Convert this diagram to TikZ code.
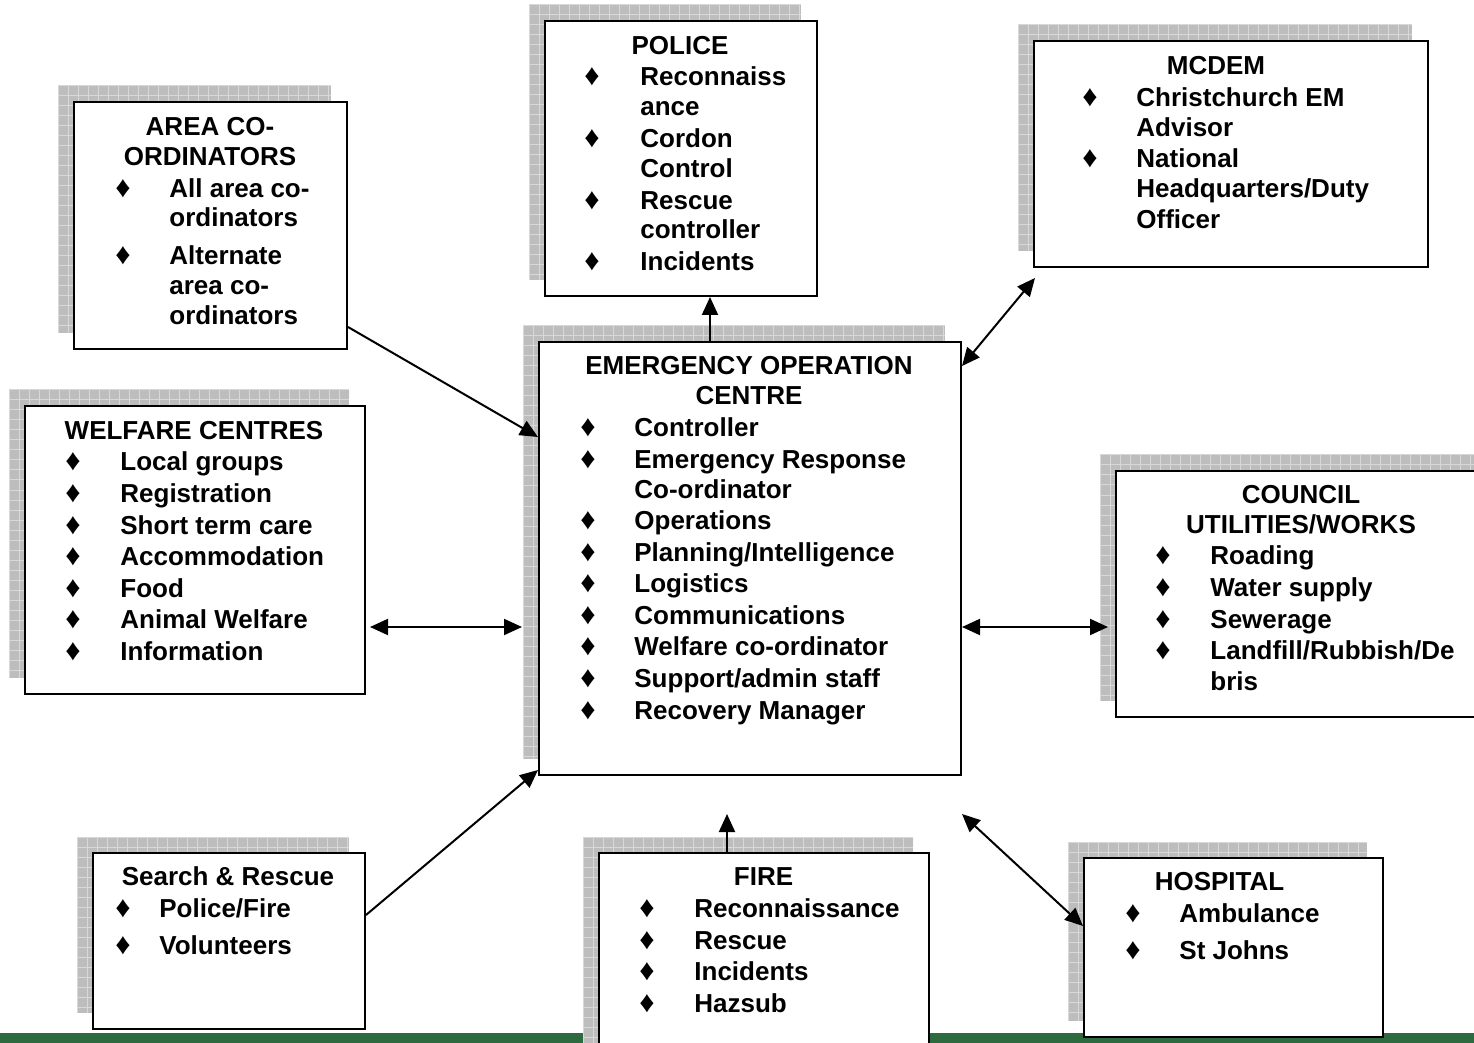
\documentclass[tikz,border=0pt]{standalone}
\usepackage{fontspec}
\setmainfont{Liberation Sans}
\usetikzlibrary{arrows.meta}
\definecolor{shadowgrey}{HTML}{BDBDBD}
\definecolor{gridgrey}{HTML}{D8D8D8}
\definecolor{band}{HTML}{2D6A3F}

% grey checked shadow behind a box
\newcommand\boxshade[4]{%
  \fill[shadowgrey] (#1,#2) rectangle (#3,#4);
  \begin{scope}
    \clip (#1,#2) rectangle (#3,#4);
    \foreach \k in {0,...,44}{
      \draw[gridgrey,line width=.5pt] (#1+10*\k,#2) -- (#1+10*\k,#4);
      \draw[gridgrey,line width=.5pt] (#1,#2+10*\k) -- (#3,#2+10*\k);}
  \end{scope}}

\begin{document}
\begin{tikzpicture}[x=.5pt,y=-.5pt,
  every node/.style={font=\bfseries\fontsize{13}{15}\selectfont,inner sep=0},
  box/.style={draw,line width=1pt,fill=white,anchor=north west},
  ttl/.style={anchor=base},
  item/.style={anchor=base west},
  dia/.style={anchor=base,font=\fontsize{15}{15}\selectfont},
  arr/.style={line width=1pt,-{Triangle[length=9pt,width=8pt]}},
  arrs/.style={line width=1pt,{Triangle[length=9pt,width=8pt]}-{Triangle[length=9pt,width=8pt]}}]
\useasboundingbox (0,0) rectangle (1474,1043);
\clip (0,0) rectangle (1474,1043);
\fill[band] (0,1033) rectangle (1474,1043);

% shadows
\boxshade{529}{5}{801}{280}
\boxshade{1018}{25}{1412}{251}
\boxshade{58}{86}{331}{333}
\boxshade{523}{326}{945}{759}
\boxshade{9}{390}{349}{678}
\boxshade{1100}{455}{1480}{701}
\boxshade{77}{837}{349}{1013}
\boxshade{583}{837}{913}{1057}
\boxshade{1068}{842}{1367}{1021}

% boxes
\node[box,minimum width=136pt,minimum height=137.5pt] (pol) at (544,20) {};
\node[box,minimum width=197pt,minimum height=113pt] (mcd) at (1033,40) {};
\node[box,minimum width=136.5pt,minimum height=123.5pt] (area) at (73,101) {};
\node[box,minimum width=211pt,minimum height=216.5pt] (eoc) at (538,341) {};
\node[box,minimum width=170pt,minimum height=144pt] (wel) at (24,405) {};
\node[box,minimum width=190pt,minimum height=123pt] (cou) at (1115,470) {};
\node[box,minimum width=136pt,minimum height=88pt] (sar) at (92,852) {};
\node[box,minimum width=165pt,minimum height=110pt] (fire) at (598,852) {};
\node[box,minimum width=149.5pt,minimum height=89.5pt] (hos) at (1083,857) {};

% police
\node[ttl] (pol-t) at (680,54.5) {POLICE};
\foreach \yy/\txt [count=\i] in {85.5/Reconnaiss,115.5/ance,147.5/Cordon,177.5/Control,
  209.5/Rescue,238.5/controller,270.5/Incidents}
  \node[item] (pol-\i) at (640,\yy) {\txt};
\foreach \yy [count=\i] in {85.5,147.5,209.5,270.5}
  \node[dia] (pol-d\i) at (592,\yy) {♦};

% mcdem
\node[ttl] (mcd-t) at (1216,74.5) {MCDEM};
\foreach \yy/\txt [count=\i] in {106.5/Christchurch EM,136.5/Advisor,167.5/National,
  197.5/{Headquarters/Duty},228.5/Officer}
  \node[item] (mcd-\i) at (1136,\yy) {\txt};
\foreach \yy [count=\i] in {106.5,167.5}
  \node[dia] (mcd-d\i) at (1090,\yy) {♦};

% area co-ordinators
\node[ttl] (area-t1) at (210,135.5) {AREA CO-};
\node[ttl] (area-t2) at (210,165.5) {ORDINATORS};
\foreach \yy/\txt [count=\i] in {197.5/All area co-,226.5/ordinators,264.5/Alternate,
  294.5/area co-,324.5/ordinators}
  \node[item] (area-\i) at (169,\yy) {\txt};
\foreach \yy [count=\i] in {197.5,264.5}
  \node[dia] (area-d\i) at (123,\yy) {♦};

% emergency operation centre
\node[ttl] (eoc-t1) at (749,374.5) {EMERGENCY OPERATION};
\node[ttl] (eoc-t2) at (749,404.5) {CENTRE};
\foreach \yy/\txt [count=\i] in {436.5/Controller,468.5/Emergency Response,498.5/Co-ordinator,
  529.5/Operations,561.5/{Planning/Intelligence},592.5/Logistics,624.5/Communications,
  655.5/Welfare co-ordinator,687.5/{Support/admin staff},719.5/Recovery Manager}
  \node[item] (eoc-\i) at (634,\yy) {\txt};
\foreach \yy [count=\i] in {436.5,468.5,529.5,561.5,592.5,624.5,655.5,687.5,719.5}
  \node[dia] (eoc-d\i) at (588,\yy) {♦};

% welfare centres
\node[ttl] (wel-t) at (194,439.5) {WELFARE CENTRES};
\foreach \yy/\txt [count=\i] in {470.5/Local groups,502.5/Registration,534.5/Short term care,
  565.5/Accommodation,597.5/Food,628.5/Animal Welfare,660.5/Information}
  \node[item] (wel-\i) at (120,\yy) {\txt};
\foreach \yy [count=\i] in {470.5,502.5,534.5,565.5,597.5,628.5,660.5}
  \node[dia] (wel-d\i) at (73,\yy) {♦};

% council utilities/works
\node[ttl] (cou-t1) at (1301,503.5) {COUNCIL};
\node[ttl] (cou-t2) at (1301,533.5) {UTILITIES/WORKS};
\foreach \yy/\txt [count=\i] in {564.5/Roading,596.5/Water supply,628.5/Sewerage,
  659.5/{Landfill/Rubbish/De},690.5/bris}
  \node[item] (cou-\i) at (1210,\yy) {\txt};
\foreach \yy [count=\i] in {564.5,596.5,628.5,659.5}
  \node[dia] (cou-d\i) at (1163,\yy) {♦};

% search & rescue
\node[ttl] (sar-t) at (228,885.5) {Search \& Rescue};
\foreach \yy/\txt [count=\i] in {917.5/{Police/Fire},954.5/Volunteers}
  \node[item] (sar-\i) at (159,\yy) {\txt};
\foreach \yy [count=\i] in {917.5,954.5}
  \node[dia] (sar-d\i) at (123,\yy) {♦};

% fire
\node[ttl] (fire-t) at (763.5,885.5) {FIRE};
\foreach \yy/\txt [count=\i] in {917.5/Reconnaissance,949.5/Rescue,980.5/Incidents,1012.5/Hazsub}
  \node[item] (fire-\i) at (694,\yy) {\txt};
\foreach \yy [count=\i] in {917.5,949.5,980.5,1012.5}
  \node[dia] (fire-d\i) at (647,\yy) {♦};

% hospital
\node[ttl] (hos-t) at (1219.5,890.5) {HOSPITAL};
\foreach \yy/\txt [count=\i] in {922.5/Ambulance,959.5/St Johns}
  \node[item] (hos-\i) at (1179,\yy) {\txt};
\foreach \yy [count=\i] in {922.5,959.5}
  \node[dia] (hos-d\i) at (1133,\yy) {♦};

% links to the centre
\draw[arr] ([xshift=-20pt]eoc.north) -- ([xshift=14.5pt]pol.south);
\draw[arrs] ([yshift=-12.5pt]eoc.north east) -- ([shift={(1pt,-5pt)}]mcd.south west);
\draw[arr] ([yshift=11.5pt]area.south east) -- ([yshift=-48pt]eoc.north west);
\draw[arrs] ([shift={(2pt,-38.5pt)}]wel.east) -- ([shift={(-8pt,-34.25pt)}]eoc.west);
\draw[arrs] ([yshift=-34.25pt]eoc.east) -- ([shift={(-3.5pt,-16.5pt)}]cou.west);
\draw[arr] ([yshift=13pt]sar.east) -- ([yshift=3pt]eoc.south west);
\draw[arr] ([xshift=-18.5pt]fire.north) -- ([shift={(-11.5pt,-19pt)}]eoc.south);
\draw[arrs] ([yshift=-19pt]eoc.south east) -- ([yshift=10.75pt]hos.west);
\end{tikzpicture}
\end{document}
